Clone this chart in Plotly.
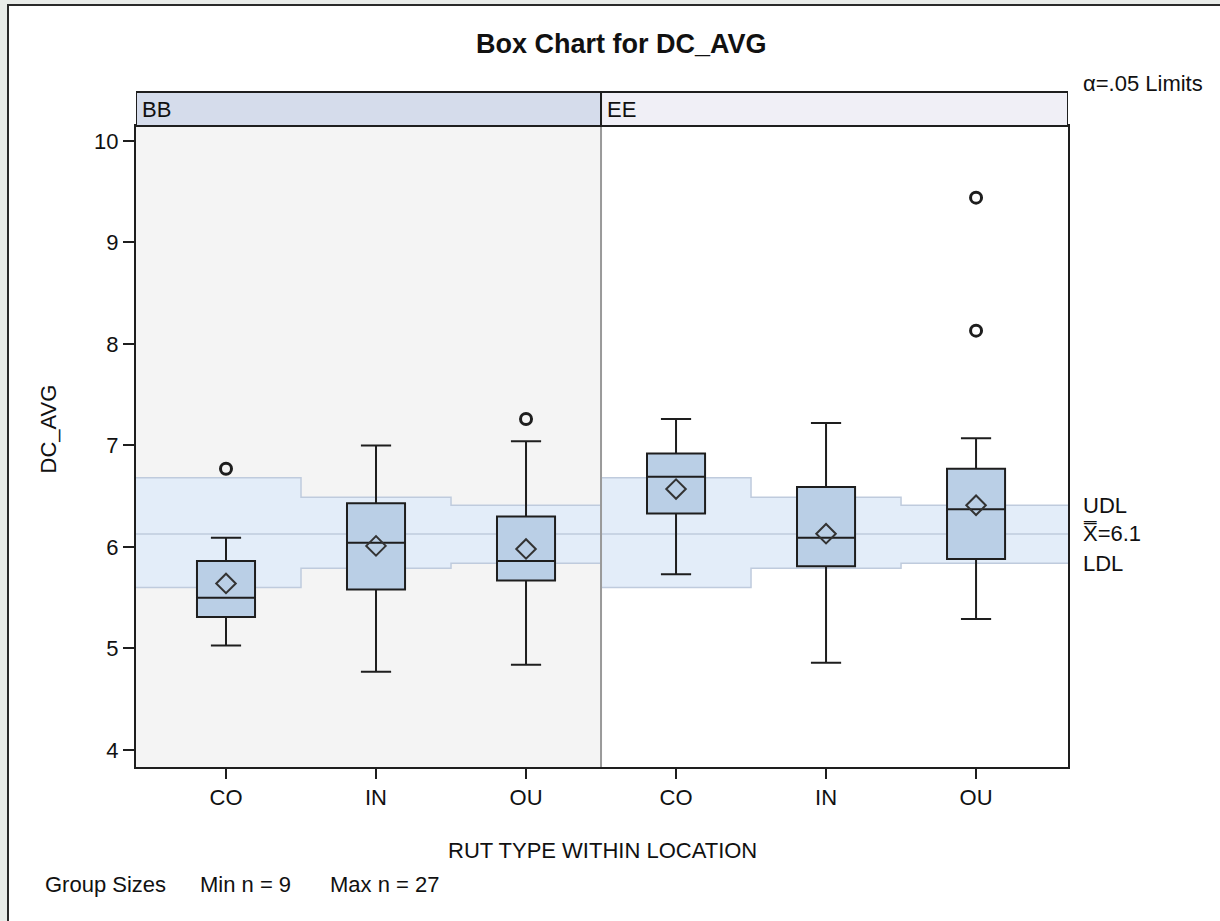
import plotly.graph_objects as go

# ---- data ----
locations = ["BB", "BB", "BB", "EE", "EE", "EE"]
rut_types = ["CO", "IN", "OU", "CO", "IN", "OU"]
q1 = [5.31, 5.58, 5.67, 6.33, 5.81, 5.88]
medians = [5.50, 6.04, 5.86, 6.69, 6.09, 6.37]
q3 = [5.86, 6.43, 6.30, 6.92, 6.59, 6.77]
whisker_low = [5.03, 4.77, 4.84, 5.73, 4.86, 5.29]
whisker_high = [6.09, 7.00, 7.04, 7.26, 7.22, 7.07]
means = [5.64, 6.01, 5.98, 6.57, 6.13, 6.41]
outlier_group = [0, 2, 5, 5]
outlier_values = [6.77, 7.26, 9.44, 8.13]
udl = [6.68, 6.49, 6.41, 6.68, 6.49, 6.41]
ldl = [5.60, 5.79, 5.84, 5.60, 5.79, 5.84]
grand_mean = 6.128
alpha = ".05"
min_n = 9
max_n = 27
y_ticks = [4, 5, 6, 7, 8, 9, 10]

# ---- geometry ----
W, H = 1220, 921
L, R, T, B = 136, 152, 126, 154
PW, PH = W - L - R, H - T - B
X_RANGE = [-0.6, 5.613]
Y_RANGE = [3.832, 10.146]


def px_x(px):
    return (px - L) / PW


def px_y(py):
    return (H - B - py) / PH


FONT = "Liberation Sans, Arial, sans-serif"
BOX_FILL = "#bacfe6"
BAND_FILL = "#e3edf9"
BAND_LINE = "#bfcbdd"
DARK = "#1e1e1e"

pos = list(range(len(rut_types)))
n_bb = locations.count("BB")
split = n_bb - 0.5

fig = go.Figure()

# box bodies, medians and capped whiskers
fig.add_trace(go.Box(
    x=pos, q1=q1, median=medians, q3=q3,
    lowerfence=whisker_low, upperfence=whisker_high,
    width=0.387, whiskerwidth=0.52,
    fillcolor=BOX_FILL, line=dict(color=DARK, width=2),
    boxpoints=False, hoverinfo="skip", showlegend=False,
))

# group means
fig.add_trace(go.Scatter(
    x=pos, y=means, mode="markers",
    marker=dict(symbol="diamond-open", size=15, color="#333333",
                line=dict(width=2, color="#333333")),
    showlegend=False, hoverinfo="skip",
))

# outliers
fig.add_trace(go.Scatter(
    x=[pos[g] for g in outlier_group], y=outlier_values, mode="markers",
    marker=dict(symbol="circle-open", size=11, color=DARK,
                line=dict(width=3, color=DARK)),
    showlegend=False, hoverinfo="skip",
))

# ---- decision limit band (step shape per group) ----
edges = [X_RANGE[0]] + [p + 0.5 for p in pos[:-1]] + [X_RANGE[1]]


def step_points(vals):
    pts = []
    for i, v in enumerate(vals):
        pts.append((edges[i], v))
        pts.append((edges[i + 1], v))
    return pts


up_pts = step_points(udl)
lo_pts = step_points(ldl)


def to_path(pts, close=False):
    s = "M " + " L ".join(f"{x},{y}" for x, y in pts)
    return s + (" Z" if close else "")


shapes = []
# outer frame of the graph
shapes.append(dict(type="rect", xref="paper", yref="paper",
                   x0=px_x(8), x1=px_x(1240), y0=px_y(940), y1=px_y(5),
                   fillcolor="white", line=dict(color="#2a2a2a", width=2),
                   layer="below"))
# shaded background of the BB panel
shapes.append(dict(type="rect", xref="x", yref="y",
                   x0=X_RANGE[0], x1=split, y0=Y_RANGE[0], y1=Y_RANGE[1],
                   fillcolor="#f4f4f4", line=dict(width=0), layer="below"))
shapes.append(dict(type="path", xref="x", yref="y",
                   path=to_path(up_pts + lo_pts[::-1], close=True),
                   fillcolor=BAND_FILL, line=dict(width=0), layer="below"))
shapes.append(dict(type="path", xref="x", yref="y", path=to_path(up_pts),
                   line=dict(color=BAND_LINE, width=1.5), layer="below"))
shapes.append(dict(type="path", xref="x", yref="y", path=to_path(lo_pts),
                   line=dict(color=BAND_LINE, width=1.5), layer="below"))
shapes.append(dict(type="line", xref="x", yref="y",
                   x0=X_RANGE[0], x1=X_RANGE[1], y0=grand_mean, y1=grand_mean,
                   line=dict(color=BAND_LINE, width=1.5), layer="below"))
# panel divider
shapes.append(dict(type="line", xref="x", yref="paper",
                   x0=split, x1=split, y0=0, y1=1,
                   line=dict(color="#9a9a9a", width=2), layer="above"))
# panel headers
strip_top = px_y(92)
shapes.append(dict(type="rect", xref="x", yref="paper",
                   x0=X_RANGE[0], x1=split, y0=1, y1=strip_top,
                   fillcolor="#d5dceb", line=dict(color=DARK, width=2)))
shapes.append(dict(type="rect", xref="x", yref="paper",
                   x0=split, x1=X_RANGE[1], y0=1, y1=strip_top,
                   fillcolor="#f0eff6", line=dict(color=DARK, width=2)))

label_font = dict(family=FONT, size=22, color="#111")

annotations = []
for x0, name in [(X_RANGE[0], "BB"), (split, "EE")]:
    annotations.append(dict(xref="x", yref="paper", x=x0, y=(1 + strip_top) / 2,
                            text=name, showarrow=False, xanchor="left",
                            yanchor="middle", xshift=4, font=label_font))

annotations += [
    dict(xref="paper", yref="paper", x=px_x(621), y=px_y(44),
         text="<b>Box Chart for DC_AVG</b>", showarrow=False,
         xanchor="center", yanchor="middle",
         font=dict(family=FONT, size=27, color="#111")),
    dict(xref="paper", yref="paper", x=px_x(1081), y=px_y(84),
         text=f"\u03b1={alpha} Limits", showarrow=False,
         xanchor="left", yanchor="middle", font=label_font),
    dict(xref="paper", yref="y", x=px_x(1081), y=udl[-1], text="UDL",
         showarrow=False, xanchor="left", yanchor="middle", font=label_font),
    dict(xref="paper", yref="y", x=px_x(1081), y=grand_mean,
         text=f"X\u033f={grand_mean:.1f}",
         showarrow=False, xanchor="left", yanchor="middle", font=label_font),
    dict(xref="paper", yref="y", x=px_x(1081), y=ldl[-1], text="LDL",
         showarrow=False, xanchor="left", yanchor="middle", font=label_font),
    dict(xref="paper", yref="paper", x=px_x(48), y=px_y(429.5),
         text="DC_AVG", textangle=-90, showarrow=False,
         xanchor="center", yanchor="middle", font=label_font),
    dict(xref="paper", yref="paper", x=px_x(602), y=px_y(850),
         text="RUT TYPE WITHIN LOCATION", showarrow=False,
         xanchor="center", yanchor="middle", font=label_font),
    dict(xref="paper", yref="paper", x=px_x(43), y=px_y(884),
         text="Group Sizes", showarrow=False,
         xanchor="left", yanchor="middle", font=label_font),
    dict(xref="paper", yref="paper", x=px_x(198), y=px_y(884),
         text=f"Min n = {min_n}", showarrow=False,
         xanchor="left", yanchor="middle", font=label_font),
    dict(xref="paper", yref="paper", x=px_x(328), y=px_y(884),
         text=f"Max n = {max_n}", showarrow=False,
         xanchor="left", yanchor="middle", font=label_font),
]

fig.update_layout(
    width=W, height=H,
    margin=dict(l=L, r=R, t=T, b=B, autoexpand=False),
    paper_bgcolor="#e9ece9",
    plot_bgcolor="white",
    showlegend=False,
    shapes=shapes,
    annotations=annotations,
    font=dict(family=FONT, size=22, color="#111"),
)
fig.update_xaxes(
    range=X_RANGE, tickmode="array", tickvals=pos, ticktext=rut_types,
    ticks="outside", ticklen=10, tickwidth=1.5, tickcolor=DARK,
    showline=True, linecolor=DARK, linewidth=2, mirror=True,
    showgrid=False, zeroline=False, tickfont=label_font,
)
fig.update_yaxes(
    range=Y_RANGE, tickmode="array", tickvals=y_ticks,
    ticks="outside", ticklen=11, tickwidth=1.5, tickcolor=DARK,
    showline=True, linecolor=DARK, linewidth=2, mirror=True,
    showgrid=False, zeroline=False, tickfont=label_font,
)

fig.write_html("out.html")
